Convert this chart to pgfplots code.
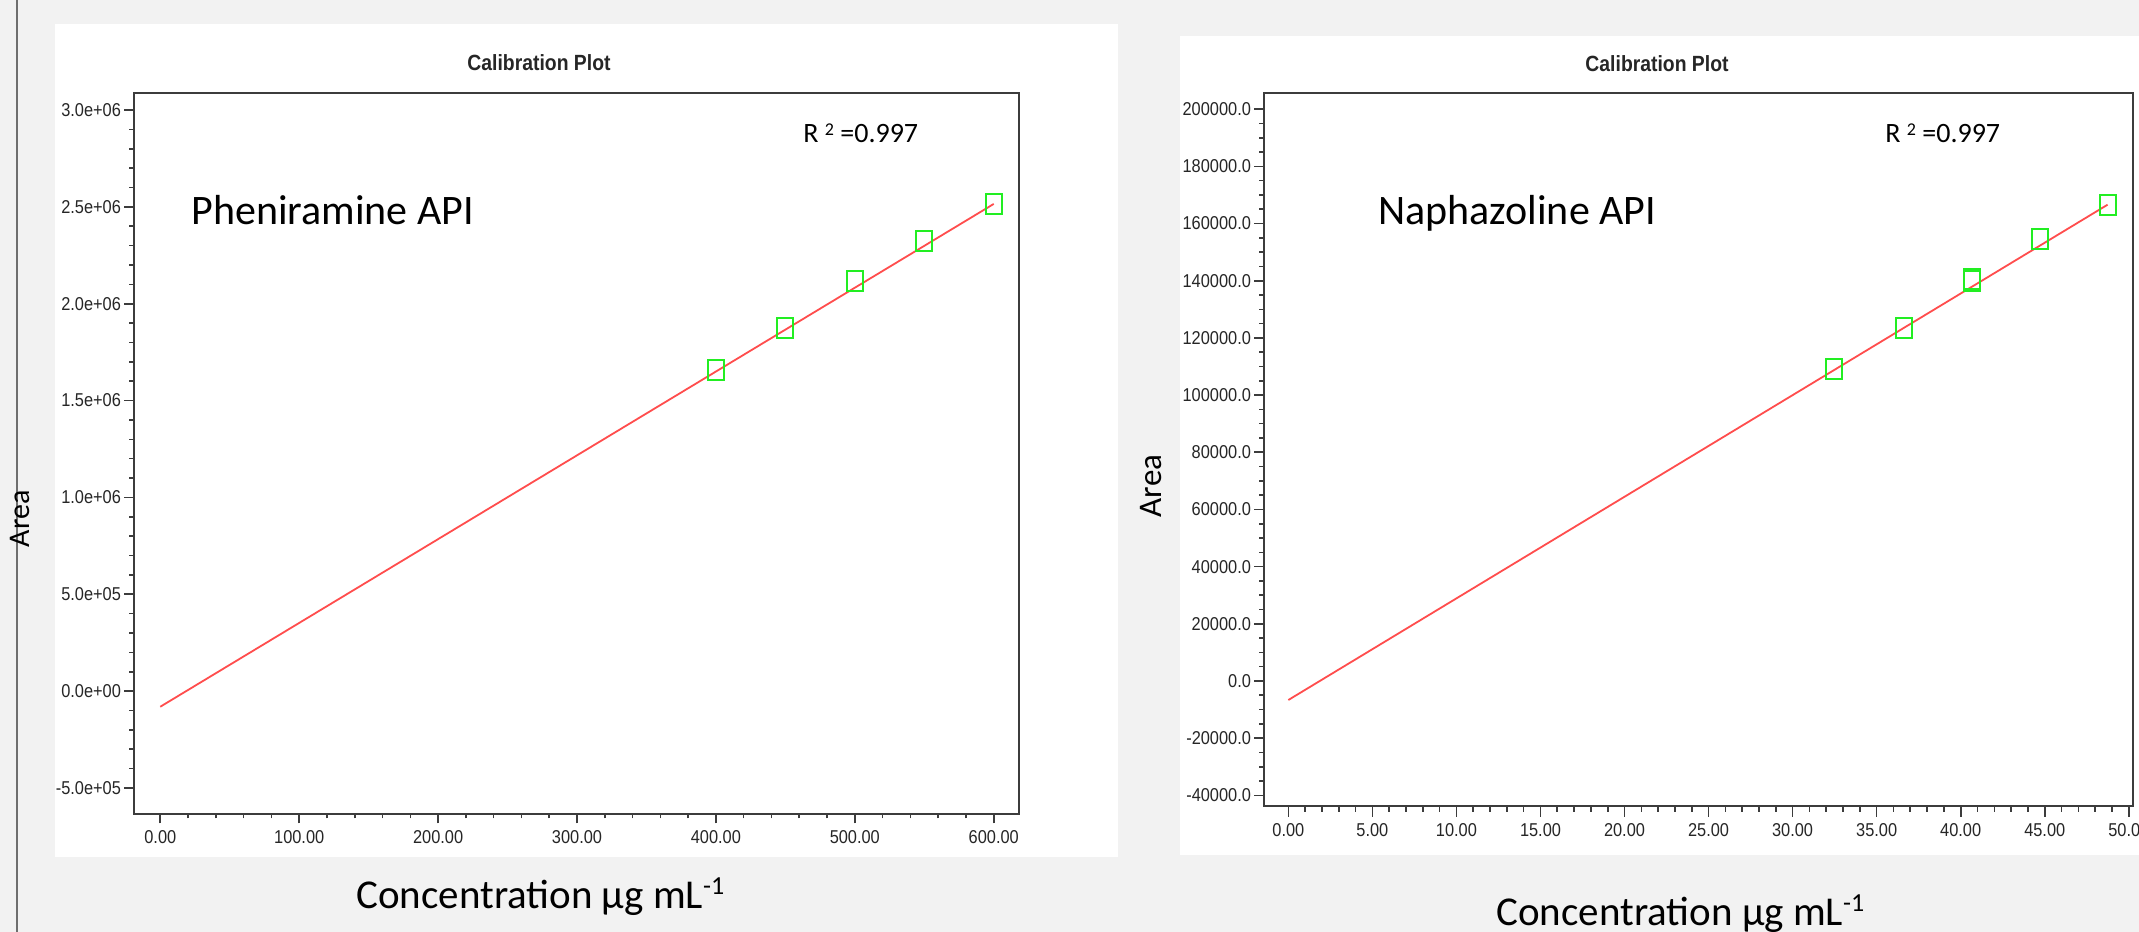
\documentclass[border=0pt]{standalone}
\usepackage{fontspec}
\setmainfont{Carlito}
\newfontfamily\tickfont[FakeStretch=0.88]{Liberation Sans}
\usepackage{pgfplots}
\pgfplotsset{compat=1.18}
\definecolor{bg}{HTML}{F2F2F2}
\definecolor{fitred}{HTML}{FF4D4D}
\definecolor{ptgreen}{HTML}{22EE22}
\definecolor{framegray}{HTML}{3C3C3C}
\definecolor{sidegray}{HTML}{6E6E6E}

\pgfplotsset{calib/.style={scale only axis,
  axis line style={framegray,line width=1bp},
  tick style={framegray,line width=0.8bp},
  major tick length=5bp, minor tick length=2.5bp,
  tick align=outside, xtick pos=bottom, ytick pos=left,
  scaled ticks=false,
  ticklabel style={font=\tickfont\fontsize{9.3bp}{10bp}\selectfont,text=black!85},
  yticklabel style={inner sep=1.5bp},
  xticklabel style={inner sep=2bp,yshift=-1.5bp},
  clip=false}}

\begin{document}
\begin{tikzpicture}
\useasboundingbox (0,0) rectangle (1069.5bp,466bp);
\fill[bg] (0,0) rectangle (1069.5bp,466bp);
\draw[sidegray,line width=1bp] (8.5bp,0) -- (8.5bp,466bp);
\fill[white] (27.5bp,37.5bp) rectangle (559bp,454bp);
\fill[white] (590bp,38.5bp) rectangle (1069.5bp,448bp);

% Pheniramine
\begin{axis}[calib,at={(67.15bp,59.25bp)},anchor=south west,
  width=442.35bp,height=360.1bp,
  xmin=-18.7,xmax=618.2,ymin=-631600,ymax=3086200,
  xtick={0,100,200,300,400,500,600},
  xticklabels={0.00,100.00,200.00,300.00,400.00,500.00,600.00},
  minor x tick num=4,
  ytick={-500000,0,500000,1000000,1500000,2000000,2500000,3000000},
  yticklabels={-5.0e+05,0.0e+00,5.0e+05,1.0e+06,1.5e+06,2.0e+06,2.5e+06,3.0e+06},
  minor y tick num=4]
\addplot[fitred,line width=0.9bp,no marks] coordinates {(0,-80500) (600,2515000)};
\addplot[only marks,mark=square,mark size=5bp,
  mark options={xscale=0.8,draw=ptgreen,line width=1bp}] coordinates {
  (400,1658000) (450,1875000) (500,2119000) (550,2325000) (600,2515000)};
\end{axis}

% Naphazoline
\begin{axis}[calib,at={(632.15bp,62.75bp)},anchor=south west,
  width=434.5bp,height=356.65bp,
  xmin=-1.43,xmax=50.27,ymin=-43900,ymax=205600,
  xtick={0,5,10,15,20,25,30,35,40,45,50},
  xticklabels={0.00,5.00,10.00,15.00,20.00,25.00,30.00,35.00,40.00,45.00,50.00},
  minor x tick num=4,
  ytick={-40000,-20000,0,20000,40000,60000,80000,100000,120000,140000,160000,180000,200000},
  yticklabels={-40000.0,-20000.0,0.0,20000.0,40000.0,60000.0,80000.0,100000.0,120000.0,140000.0,160000.0,180000.0,200000.0},
  minor y tick num=3]
\addplot[fitred,line width=0.9bp,no marks] coordinates {(0,-6650) (48.74,166600)};
\addplot[only marks,mark=square,mark size=5bp,
  mark options={xscale=0.8,draw=ptgreen,line width=1bp}] coordinates {
  (32.48,109200) (36.61,123600) (40.65,140000) (40.65,140700) (44.69,154500) (48.74,166600)};
\end{axis}

% titles and texts
\node[font=\tickfont\bfseries\fontsize{11bp}{12bp}\selectfont,text=black!85] at (269.5bp,434.5bp) {Calibration Plot};
\node[font=\tickfont\bfseries\fontsize{11bp}{12bp}\selectfont,text=black!85] at (828.5bp,434bp) {Calibration Plot};
\node[anchor=base west,inner sep=0,font=\fontsize{21bp}{24bp}\selectfont] at (95.5bp,353.5bp) {Pheniramine API};
\node[anchor=base west,inner sep=0,font=\fontsize{21bp}{24bp}\selectfont] at (689bp,353.5bp) {Naphazoline API};
\node[anchor=base west,inner sep=0,font=\fontsize{14bp}{16bp}\selectfont] at (401.5bp,394.5bp) {R \raisebox{0.55ex}{\fontsize{9bp}{10bp}\selectfont 2} =0.997};
\node[anchor=base west,inner sep=0,font=\fontsize{14bp}{16bp}\selectfont] at (942.5bp,394.5bp) {R \raisebox{0.55ex}{\fontsize{9bp}{10bp}\selectfont 2} =0.997};
\node[rotate=90,inner sep=0,font=\fontsize{15bp}{17bp}\selectfont] at (10bp,206.5bp) {Area};
\node[rotate=90,inner sep=0,font=\fontsize{16.5bp}{18bp}\selectfont] at (575.5bp,223bp) {Area};
\node[anchor=base west,inner sep=0,font=\fontsize{20.5bp}{23bp}\selectfont] at (178bp,12bp) {Concentration µg mL\raisebox{0.7ex}{\fontsize{13bp}{14bp}\selectfont -1}};
\node[anchor=base west,inner sep=0,font=\fontsize{20.5bp}{23bp}\selectfont] at (748bp,3.5bp) {Concentration µg mL\raisebox{0.7ex}{\fontsize{13bp}{14bp}\selectfont -1}};
\end{tikzpicture}
\end{document}
